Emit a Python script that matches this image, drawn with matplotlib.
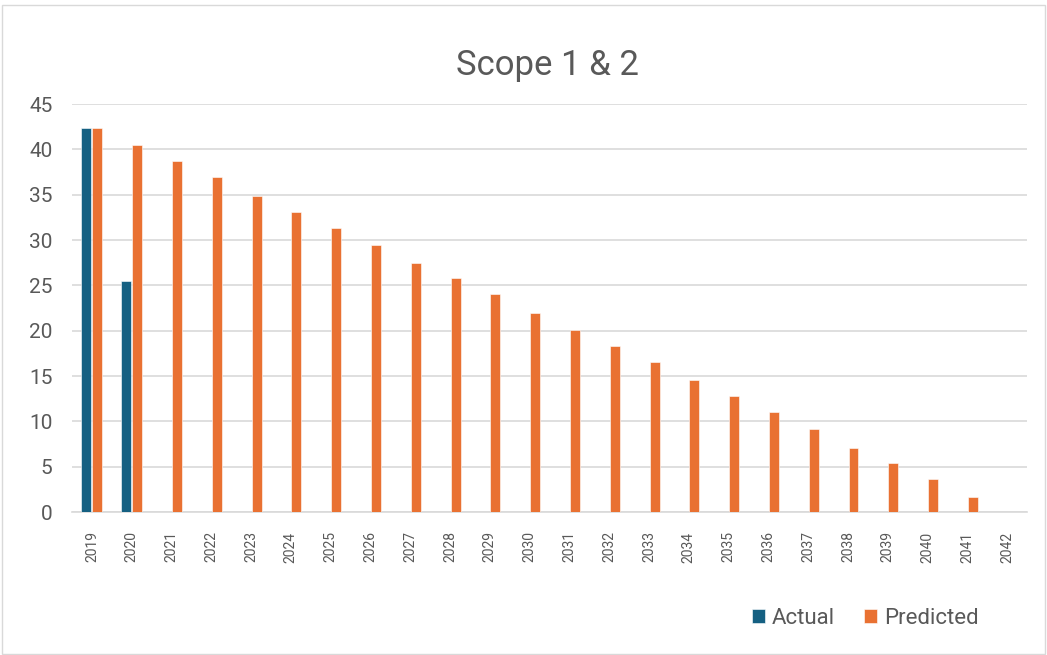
import numpy as np
import matplotlib
matplotlib.use("Agg")
import matplotlib.pyplot as plt
from matplotlib.patches import Rectangle

plt.rcParams['font.family'] = ['Roboto', 'DejaVu Sans']

# Chart data
years = [str(y) for y in range(2019, 2043)]
actual = [42.3, 25.5] + [0] * 22
predicted = [42.3, 40.5, 38.7, 36.9, 34.9, 33.1, 31.3, 29.5, 27.5, 25.8,
             24.0, 21.9, 20.1, 18.3, 16.5, 14.6, 12.8, 11.0, 9.2, 7.1,
             5.4, 3.6, 1.6, 0]

blue = '#156082'
orange = '#E97132'
grey_text = '#595959'

fig = plt.figure(figsize=(10.47, 6.55), dpi=100)
ax = fig.add_axes([72 / 1047, 1 - 512 / 655, 955 / 1047, 408 / 655])

x = np.arange(len(years))
w = 0.25
ax.bar(x - 0.14, actual, width=w, color=blue, edgecolor='white', linewidth=0.4,
       label='Actual', zorder=3)
ax.bar(x + 0.14, predicted, width=w, color=orange, edgecolor='white', linewidth=0.4,
       label='Predicted', zorder=3)

ax.set_xlim(-0.5, len(years) - 0.5)
ax.set_ylim(0, 45)
ax.set_yticks(range(0, 50, 5))
ax.yaxis.grid(True, color='#D9D9D9', linewidth=1.2, zorder=0)
ax.set_axisbelow(True)
for s in ['top', 'right', 'left']:
    ax.spines[s].set_visible(False)
ax.spines['bottom'].set_color('#D9D9D9')
ax.spines['bottom'].set_linewidth(1.2)
ax.tick_params(axis='y', length=0, labelsize=15, labelcolor=grey_text, pad=14)
ax.tick_params(axis='x', length=0, labelsize=10, labelcolor=grey_text, pad=14)
ax.set_xticks(x)
ax.set_xticklabels(years, rotation=90, va='top', ha='center')

fig.text(547 / 1047, 1 - 65 / 655, 'Scope 1 & 2', ha='center', va='center',
         fontsize=25, color=grey_text)

fig.legend(loc='center', bbox_to_anchor=(865 / 1047, 1 - 618 / 655), ncol=2,
           frameon=False, fontsize=16, labelcolor=grey_text,
           handlelength=0.6, handleheight=0.6, handletextpad=0.3, columnspacing=1.3)

# outer chart border
fig.patches.append(Rectangle((0.002, 0.002), 0.996, 0.99, transform=fig.transFigure,
                             fill=False, edgecolor='#D9D9D9', linewidth=1))

fig.savefig('out.png', dpi=100, facecolor='white')
